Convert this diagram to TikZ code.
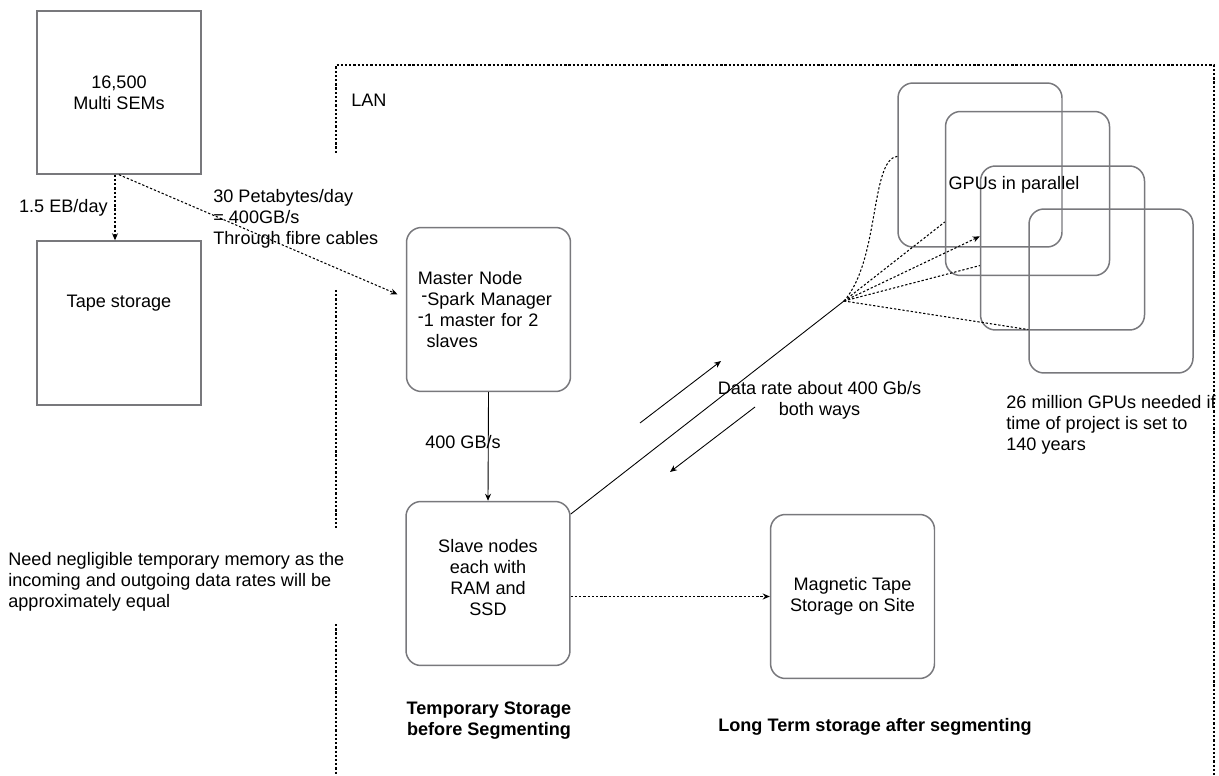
\documentclass[tikz,border=0pt]{standalone}
\usepackage{fontspec}
\setmainfont{Liberation Sans}
\usetikzlibrary{arrows.meta,positioning,calc}
\definecolor{boxgray}{RGB}{120,120,124}

\begin{document}
\begin{tikzpicture}[
    x=0.02cm, y=-0.02cm,
    font=\fontsize{10.3}{11.9}\selectfont,
    unit/.style={draw=boxgray, line width=0.85pt, minimum width=3.28cm, minimum height=3.28cm, align=center, inner sep=0pt},
    rbox/.style={unit, rounded corners=8.5pt},
    lbl/.style={inner sep=0pt, align=left},
    dotline/.style={dash pattern=on 1.3pt off 1.1pt, line width=0.6pt},
    tip/.style={-{Stealth[length=4pt,width=3.4pt]}}
]
\useasboundingbox (0,0) rectangle (1219,776);

% microscopes and their own tape
\node[unit, minimum height=3.26cm] (sem) at (119,92.5) {16,500\\Multi SEMs};
\node[unit, text height=0.26cm, text depth=0.9cm] (tape) at (119,323) {Tape storage};
\draw[dotline, tip] ([xshift=-0.08cm]sem.south) -- ([xshift=-0.08cm]tape.north);
\node[lbl, anchor=east] (rateEB) at (108,208) {1.5 EB/day};

% LAN border
\coordinate (lanA) at (336,153);
\coordinate (lanB) at (336,65);
\coordinate (lanC) at (1214,65);
\coordinate (lanD) at (1214,776);
\draw[dotline] (lanA) -- (lanB) -- (lanC) -- (lanD);
\draw[dotline] (336,290) -- (336,528);
\draw[dotline] (336,624) -- (336,776);
\node[lbl, anchor=west] (lan) at (351,100) {LAN};

% temporary storage
\node[rbox, text width=2.9cm, align=left] (master) at (488.5,309.5) {\hspace*{1pt}Master Node\\
  \hspace*{3pt}\raisebox{2pt}{-}Spark Manager\\
  \hspace*{1pt}\raisebox{2pt}{-}1 master for 2\\
  \hspace*{6pt}slaves};
\node[rbox] (slave) at (488,583.5) {Slave nodes\\each with\\RAM and\\SSD\\[-5pt]};
\node[rbox] (magtape) at (852.5,596.5) {Magnetic Tape\\Storage on Site};

\draw[dotline, tip, shorten >=9*0.02cm] (sem.south) -- (master.172);
\node[lbl, anchor=west] (fibre) at (213,218.5) {30 Petabytes/day\\= 400GB/s\\Through fibre cables};

\draw[tip, line width=0.5pt] (master.south) -- (slave.north);
\node[lbl] (rateGB) at (463,442) {400 GB/s};

\draw[dotline, tip] (magtape.west -| slave.east) -- (magtape.west);

% GPUs
\node[rbox] (gpu1) at (980,165) {};
\node[rbox] (gpu2) at (1027.5,193.5) {};
\node[rbox] (gpu3) at (1062.5,248) {};
\node[rbox] (gpu4) at (1111,291) {};
\node[lbl] (gputxt) at (1014,185) {GPUs in parallel};

\coordinate (hub) at (844,301);
\draw[line width=0.5pt] (slave.40) -- (hub);
\draw[dotline] (hub) .. controls (880,260) and (870,160) .. (gpu1.174);
\draw[dotline] (hub) -- (gpu2.199);
\draw[dotline, tip] (hub) -- (gpu3.172);
\draw[dotline] (hub) -- (gpu3.192);
\draw[dotline] (hub) -- (gpu4.205);

% both ways
\coordinate (upA) at (640,423);
\coordinate (upB) at (721,361);
\coordinate (dnA) at (755,407);
\coordinate (dnB) at (670,472);
\draw[tip, line width=0.5pt] (upA) -- (upB);
\draw[tip, line width=0.5pt] (dnA) -- (dnB);
\node[lbl, align=center] (rateGb) at (819.5,400) {Data rate about 400 Gb/s\\both ways};

% notes
\node[lbl, anchor=west] (gpuneed) at (1006,424.5) {26 million GPUs needed if\\time of project is set to\\140 years};
\node[lbl, anchor=west] (memnote) at (8,581.5) {Need negligible temporary memory as the\\incoming and outgoing data rates will be\\approximately equal};
\node[lbl, align=center, font=\fontsize{10.3}{11.9}\selectfont\bfseries] (tmpcap) at (489,720.5) {Temporary Storage\\before Segmenting};
\node[lbl, align=center, font=\fontsize{10.3}{11.9}\selectfont\bfseries] (longcap) at (875,727) {Long Term storage after segmenting};
\end{tikzpicture}
\end{document}
